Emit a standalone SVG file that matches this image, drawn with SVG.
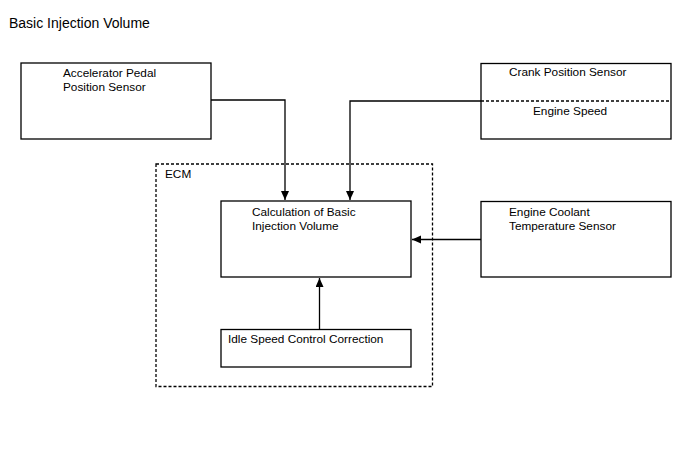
<svg xmlns="http://www.w3.org/2000/svg" width="688" height="463" viewBox="0 0 688 463">
<style>
text{font-family:"Liberation Sans",Arial,sans-serif;font-size:11.8px;fill:#000}
.box{fill:#fff;stroke:#000;stroke-width:1.3}
.dash{fill:none;stroke:#000;stroke-width:1.3;stroke-dasharray:3,2}
.con{fill:none;stroke:#000;stroke-width:1.3}
</style>
<defs>
<marker id="ah" markerWidth="10" markerHeight="10" refX="9" refY="4" orient="auto" markerUnits="userSpaceOnUse">
<path d="M0,0 L9,4 L0,8 Z" fill="#000"/>
</marker>
</defs>
<rect width="688" height="463" fill="#fff"/>
<text x="9" y="28" style="font-size:14px">Basic Injection Volume</text>
<g id="ecm">
<rect class="dash" x="156" y="164" width="276.5" height="222.5"/>
<text x="165" y="178">ECM</text>
</g>
<g id="app">
<rect class="box" x="21" y="63" width="190" height="76"/>
<text x="63" y="77">Accelerator Pedal</text>
<text x="63" y="91">Position Sensor</text>
</g>
<g id="crank">
<rect class="box" x="481" y="63.5" width="190" height="75.5"/>
<line class="dash" x1="481" y1="101" x2="671" y2="101"/>
<text x="509" y="76">Crank Position Sensor</text>
<text x="533" y="115">Engine Speed</text>
</g>
<g id="calc">
<rect class="box" x="221" y="201" width="190" height="76"/>
<text x="252" y="216">Calculation of Basic</text>
<text x="252" y="230">Injection Volume</text>
</g>
<g id="coolant">
<rect class="box" x="481" y="201.5" width="190" height="75.5"/>
<text x="509" y="216">Engine Coolant</text>
<text x="509" y="230">Temperature Sensor</text>
</g>
<g id="idle">
<rect class="box" x="221" y="329.5" width="190" height="37.5"/>
<text x="228" y="343">Idle Speed Control Correction</text>
</g>
<g id="connectors">
<polyline class="con" points="211,100 285,100 285,200" marker-end="url(#ah)"/>
<polyline class="con" points="481,101 350,101 350,200" marker-end="url(#ah)"/>
<line class="con" x1="481" y1="239.5" x2="412" y2="239.5" marker-end="url(#ah)"/>
<line class="con" x1="319.5" y1="329.5" x2="319.5" y2="278" marker-end="url(#ah)"/>
</g>
</svg>
